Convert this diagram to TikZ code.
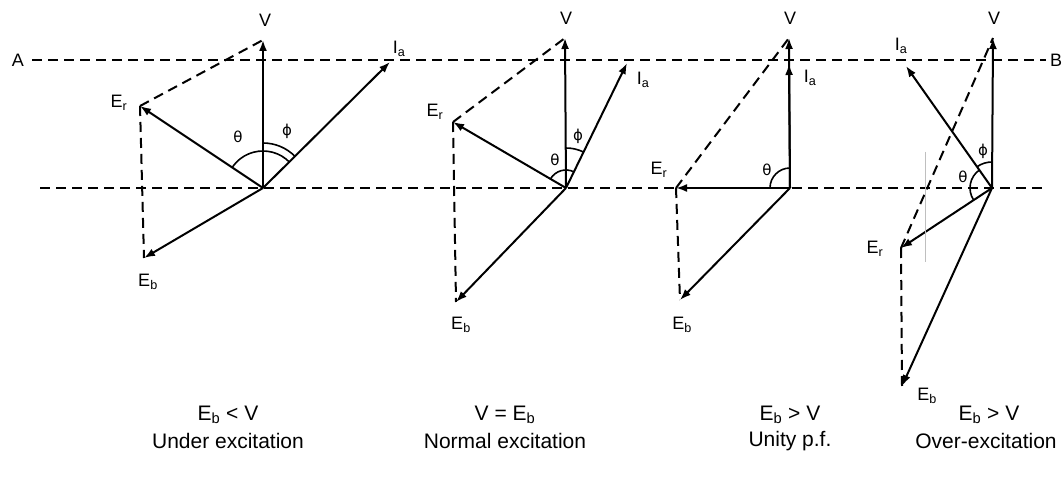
\documentclass[tikz,border=0pt]{standalone}
\usepackage{fontspec}
\setmainfont{Liberation Sans}
\newfontfamily\dvs{DejaVu Sans}
\usetikzlibrary{arrows.meta,angles}
\begin{document}
\begin{tikzpicture}[x=1pt,y=-1pt,
  vec/.style={line width=2pt,-{Latex[length=11pt,width=8pt]}},
  dsh/.style={line width=2pt,dash pattern=on 10pt off 6pt},
  lbl/.style={font=\fontsize{18}{20}\selectfont, inner sep=1pt},
  glbl/.style={font=\dvs\fontsize{15}{17}\selectfont, inner sep=1pt},
  captxt/.style={font=\fontsize{21}{24}\selectfont, inner sep=0pt},
  arcl/.style={draw,line width=1.6pt}]
\useasboundingbox (0,0) rectangle (1063,478);
\fill[white] (0,0) rectangle (1063,478);
% reference lines
\node[lbl, inner sep=0pt] (A) at (18,60) {A};
\node[lbl, inner sep=0pt] (B) at (1056,60) {B};
\coordinate (L1) at (40,188);
\coordinate (L2) at (1045,188);
\draw[dsh] ([xshift=8pt]A.east) -- ([xshift=-4pt]B.west);
\draw[dsh] (L1) -- (L2);

% ---------- diagram 1 : under excitation
\coordinate (O1) at (263,188);
\coordinate (V1) at (263,40);
\coordinate (I1) at (390,62);
\coordinate (R1) at (140,106);
\coordinate (E1) at (144,258);
\draw[vec] (O1) -- (V1);
\draw[vec] (O1) -- (I1);
\draw[vec] (O1) -- (R1);
\draw[vec] (O1) -- (E1);
\draw[dsh] (R1) -- (V1);
\draw[dsh] (R1) -- (E1);
\pic[arcl, angle radius=37pt] {angle = I1--O1--R1};
\pic[arcl, angle radius=45pt] {angle = I1--O1--V1};
\node[lbl] (v1) at (265,20) {V};
\node[lbl] (i1) at (399,49) {I\textsubscript{a}};
\node[lbl] (r1) at (119,103) {E\textsubscript{r}};
\node[lbl] (e1) at (148,282) {E\textsubscript{b}};
\node[glbl] (t1) at (238,137) {θ};
\node[glbl] (p1) at (287,131) {ϕ};

% ---------- diagram 2 : normal excitation
\coordinate (O2) at (566,188);
\coordinate (V2) at (565,38);
\coordinate (I2) at (627,63);
\coordinate (R2) at (453,122);
\coordinate (E2) at (456,302);
\draw[vec] (O2) -- (V2);
\draw[vec] (O2) -- (I2);
\draw[vec] (O2) -- (R2);
\draw[vec] (O2) -- (E2);
\draw[dsh] (R2) -- (V2);
\draw[dsh] (R2) -- (E2);
\pic[arcl, angle radius=18pt] {angle = I2--O2--R2};
\pic[arcl, angle radius=40pt] {angle = I2--O2--V2};
\node[lbl] (v2) at (566,18) {V};
\node[lbl] (i2) at (643,80) {I\textsubscript{a}};
\node[lbl] (r2) at (435,112) {E\textsubscript{r}};
\node[lbl] (e2) at (461,325) {E\textsubscript{b}};
\node[glbl] (t2) at (555,160) {θ};
\node[glbl] (p2) at (578,136) {ϕ};

% ---------- diagram 3 : unity p.f.
\coordinate (O3) at (790,188);
\coordinate (V3) at (789,38);
\coordinate (I3) at (789,64);
\coordinate (R3) at (676,188);
\coordinate (E3) at (680,300);
\draw[vec] (O3) -- (V3);
\draw[vec] (O3) -- (I3);
\draw[vec] (O3) -- (R3);
\draw[vec] (O3) -- (E3);
\draw[dsh] (R3) -- (V3);
\draw[dsh] (R3) -- (E3);
\pic[arcl, angle radius=20pt] {angle = V3--O3--R3};
\node[lbl] (v3) at (790,18) {V};
\node[lbl] (i3) at (810,78) {I\textsubscript{a}};
\node[lbl] (r3) at (659,170) {E\textsubscript{r}};
\node[lbl] (e3) at (682,325) {E\textsubscript{b}};
\node[glbl] (t3) at (767,170) {θ};

% ---------- diagram 4 : over-excitation
\coordinate (O4) at (992,188);
\coordinate (V4) at (993,38);
\coordinate (I4) at (906,66);
\coordinate (R4) at (901,248);
\coordinate (E4) at (902,386);
\draw[vec] (O4) -- (V4);
\draw[vec] (O4) -- (I4);
\draw[vec] (O4) -- (R4);
\draw[vec] (O4) -- (E4);
\draw[dsh] (R4) -- (V4);
\draw[dsh] (R4) -- (E4);
\coordinate (G1) at (925,152);
\coordinate (G2) at (925,262);
\draw[gray!50, line width=0.8pt] (G1) -- (G2);
\pic[arcl, angle radius=22pt] {angle = I4--O4--R4};
\pic[arcl, angle radius=26pt] {angle = V4--O4--I4};
\node[lbl] (v4) at (994,18) {V};
\node[lbl] (i4) at (901,46) {I\textsubscript{a}};
\node[lbl] (r4) at (875,249) {E\textsubscript{r}};
\node[lbl] (e4) at (927,396) {E\textsubscript{b}};
\node[glbl] (t4) at (963,177) {θ};
\node[glbl] (p4) at (983,151) {ϕ};

% ---------- captions
\node[captxt] (c1a) at (228,415) {E\textsubscript{b} < V};
\node[captxt] (c1b) at (228,441) {Under excitation};
\node[captxt] (c2a) at (505,415) {V = E\textsubscript{b}};
\node[captxt] (c2b) at (505,441) {Normal excitation};
\node[captxt] (c3a) at (790,415) {E\textsubscript{b} > V};
\node[captxt] (c3b) at (790,441) {Unity p.f.};
\node[captxt] (c4a) at (989,415) {E\textsubscript{b} > V};
\node[captxt] (c4b) at (986,441) {Over-excitation};
\end{tikzpicture}
\end{document}
